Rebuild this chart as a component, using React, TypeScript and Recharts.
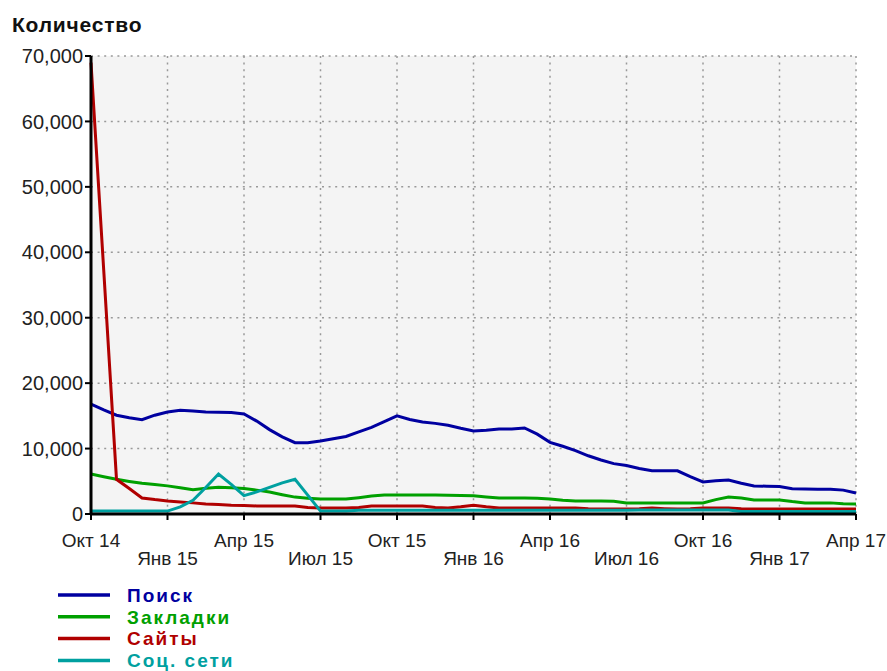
import React from 'react';
import { LineChart, Line, XAxis, YAxis, CartesianGrid } from 'recharts';

// months since Oct 2014 (half-month steps)
const months = [
  0, 0.5, 1, 1.5, 2, 2.5, 3, 3.5, 4, 4.5, 5, 5.5, 6, 6.5, 7, 7.5, 8, 8.5, 9, 9.5,
  10, 10.5, 11, 11.5, 12, 12.5, 13, 13.5, 14, 14.5, 15, 15.5, 16, 16.5, 17, 17.5, 18, 18.5, 19, 19.5,
  20, 20.5, 21, 21.5, 22, 22.5, 23, 23.5, 24, 24.5, 25, 25.5, 26, 26.5, 27, 27.5, 28, 28.5, 29, 29.5, 30,
];

const tickMonths = [0, 3, 6, 9, 12, 15, 18, 21, 24, 27, 30];
const tickLabels = ['Окт 14', 'Янв 15', 'Апр 15', 'Июл 15', 'Окт 15', 'Янв 16', 'Апр 16', 'Июл 16', 'Окт 16', 'Янв 17', 'Апр 17'];
const yTicks = [0, 10000, 20000, 30000, 40000, 50000, 60000, 70000];

const search = [
  16800, 15900, 15100, 14700, 14400, 15100, 15600, 15850, 15750, 15600, 15550, 15500, 15300, 14200, 12900, 11800,
  10900, 10900, 11150, 11500, 11850, 12550, 13250, 14100, 15000, 14450, 14050, 13850, 13550, 13100, 12700, 12800,
  13000, 13000, 13150, 12200, 10950, 10350, 9700, 8900, 8250, 7700, 7400, 6950, 6600, 6600, 6600, 5700,
  4900, 5070, 5200, 4700, 4290, 4250, 4190, 3850, 3830, 3800, 3770, 3650, 3200,
];
const bookmarks = [
  6100, 5700, 5300, 4980, 4700, 4500, 4300, 4000, 3720, 3950, 4090, 4030, 3900, 3650, 3350, 2950,
  2580, 2420, 2300, 2300, 2300, 2500, 2740, 2890, 2900, 2900, 2900, 2900, 2870, 2830, 2790, 2600,
  2450, 2450, 2450, 2400, 2300, 2100, 2000, 2000, 2000, 1950, 1700, 1700, 1700, 1700, 1700, 1700,
  1700, 2200, 2600, 2450, 2150, 2150, 2150, 1900, 1700, 1700, 1700, 1560, 1530,
];
const sites = [
  69000, 37200, 5300, 3900, 2450, 2200, 2000, 1850, 1700, 1530, 1450, 1350, 1300, 1230, 1220, 1220,
  1220, 1000, 900, 900, 900, 1000, 1220, 1220, 1220, 1220, 1220, 1000, 900, 1100, 1350, 1100,
  900, 900, 900, 900, 900, 900, 900, 800, 760, 760, 760, 800, 900, 820, 760, 800,
  900, 900, 900, 800, 760, 760, 760, 760, 760, 760, 760, 760, 760,
];
const social = [
  450, 450, 450, 450, 450, 450, 450, 1100, 2100, 4050, 6100, 4520, 2800, 3380, 4070, 4760,
  5300, 2880, 450, 450, 450, 560, 560, 560, 560, 560, 560, 560, 560, 560, 560, 560,
  560, 560, 560, 560, 560, 560, 560, 560, 560, 560, 560, 600, 600, 600, 600, 600,
  600, 600, 600, 400, 400, 400, 400, 400, 400, 400, 400, 400, 400,
];

const seriesKeys = ['search', 'bookmarks', 'sites', 'social'];
const seriesNames = ['Поиск', 'Закладки', 'Сайты', 'Соц. сети'];
const seriesColors = ['#0000a0', '#00a000', '#b00000', '#00a0a0'];

const data = months.map((t, i) => ({
  t,
  search: search[i],
  bookmarks: bookmarks[i],
  sites: sites[i],
  social: social[i],
}));

const FONT = '"Liberation Sans", Arial, sans-serif';

const XTick = (props: any) => {
  const { x, y, payload } = props;
  const idx = tickMonths.indexOf(payload.value);
  const row = idx % 2;
  return (
    <text x={x} y={y + (row ? 43 : 25)} textAnchor="middle" fill="#222" fontSize={19} fontFamily={FONT}>
      {tickLabels[idx]}
    </text>
  );
};

export default function App() {
  return (
    <div style={{ position: 'absolute', left: 0, top: 0, width: 887, height: 671, background: '#fff', overflow: 'hidden' }}>
      <LineChart width={887} height={671} data={data} margin={{ top: 56, right: 31, left: 0, bottom: 0 }}>
        <CartesianGrid
          fill="#f4f4f4"
          stroke="#999"
          strokeWidth={1.5}
          strokeDasharray="2 4.6"
          verticalValues={tickMonths}
          horizontalValues={yTicks}
        />
        <XAxis
          dataKey="t"
          type="number"
          domain={[0, 30]}
          ticks={tickMonths}
          interval={0}
          height={157}
          axisLine={{ stroke: '#000', strokeWidth: 3 }}
          tickLine={{ stroke: '#000', strokeWidth: 2 }}
          tickSize={6}
          tick={<XTick />}
        />
        <YAxis
          type="number"
          domain={[0, 70000]}
          ticks={yTicks}
          interval={0}
          width={91}
          axisLine={{ stroke: '#000', strokeWidth: 3 }}
          tickLine={{ stroke: '#000', strokeWidth: 2 }}
          tickSize={6}
          tick={{ fill: '#222', fontSize: 20, fontFamily: FONT }}
          tickFormatter={(v: number) => v.toLocaleString('en-US')}
        />
        {seriesKeys.map((k, i) => (
          <Line
            key={k}
            dataKey={k}
            name={seriesNames[i]}
            stroke={seriesColors[i]}
            strokeWidth={3}
            dot={false}
            activeDot={false}
            type="linear"
            isAnimationActive={false}
          />
        ))}
      </LineChart>
      <svg width={887} height={671} style={{ position: 'absolute', left: 0, top: 0, pointerEvents: 'none' }}>
        <text x={12} y={32} fontSize={21} fontWeight="bold" fill="#111" fontFamily={FONT} letterSpacing={0.8}>
          Количество
        </text>
        {seriesNames.map((n, i) => (
          <g key={n}>
            <line x1={58} x2={110} y1={595 + i * 21.8} y2={595 + i * 21.8} stroke={seriesColors[i]} strokeWidth={3.5} />
            <text x={127} y={602 + i * 21.5} fontSize={19} fontWeight="bold" fill={seriesColors[i]} fontFamily={FONT} letterSpacing={2}>
              {n}
            </text>
          </g>
        ))}
      </svg>
    </div>
  );
}
